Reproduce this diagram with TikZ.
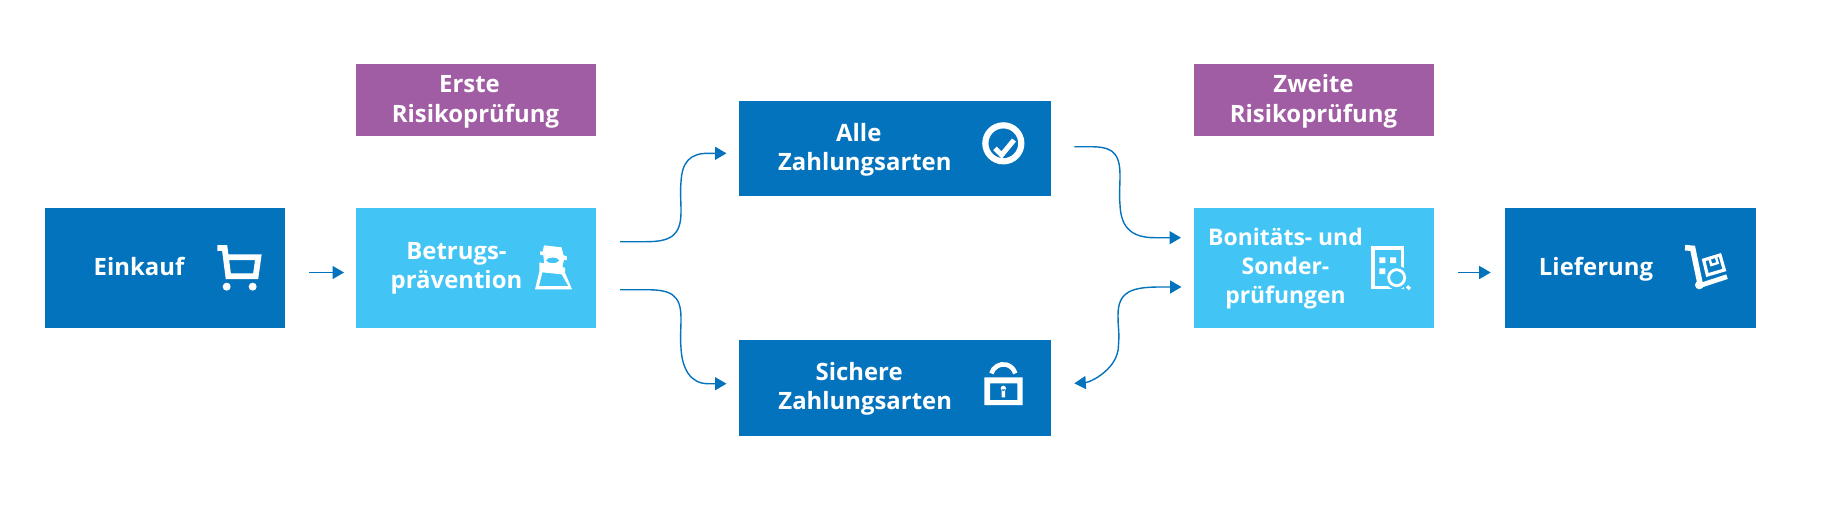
\documentclass[tikz,border=0pt]{standalone}
\usepackage{fontspec}
\setmainfont{Open Sans}
\usetikzlibrary{arrows.meta}
\definecolor{dblue}{HTML}{0473BD}
\definecolor{lblue}{HTML}{42C5F5}
\definecolor{purp}{HTML}{A05DA3}
\tikzset{
  box/.style={rectangle,draw=none,inner sep=0pt,minimum width=#1},
  boxd/.style={box=#1,fill=dblue},
  boxl/.style={box=#1,fill=lblue,minimum height=119.8pt},
  boxp/.style={box=#1,fill=purp,minimum height=72pt},
  lbl/.style={text=white,inner sep=0pt,align=center,anchor=base,font=\fontsize{23.9pt}{29.3pt}\selectfont\bfseries},
  lblsmall/.style={lbl,font=\fontsize{22.9pt}{29.3pt}\selectfont\bfseries},
  conn/.style={draw=dblue,line width=1.4pt,-{Triangle[length=11.5pt,width=13pt]}},
  conn2/.style={draw=dblue,line width=1.4pt,{Triangle[length=11.5pt,width=13pt]}-{Triangle[length=11.5pt,width=13pt]}},
  ico/.style={draw=white,line width=#1,fill=none},
  icon/.style={x=0.3333pt,y=-0.3333pt}
}
\begin{document}
\begin{tikzpicture}[x=1pt,y=-1pt]
\useasboundingbox (0,0) rectangle (1841,517);
% boxes
\node[boxd=240.7pt,minimum height=119.8pt] (einkauf) at (165,267.7) {};
\node[boxl=240.7pt] (betrug) at (476,267.7) {};
\node[boxp=240.7pt] (erste) at (476,100.2) {};
\node[boxd=311.5pt,minimum height=95pt] (alle) at (895,148.5) {};
\node[boxd=311.5pt,minimum height=95.6pt] (sichere) at (895,387.9) {};
\node[boxp=240pt] (zweite) at (1314,100.2) {};
\node[boxl=240pt] (bonitaet) at (1314,267.7) {};
\node[boxd=251pt,minimum height=119.8pt] (lieferung) at (1630.5,267.7) {};
% texts
\node[lbl] (tEinkauf) at (139,275) {Einkauf};
\node[lbl] (tErste) at (475.5,122) {Erste\hspace*{12pt}\\Risikoprüfung};
\node[lbl] (tBetrug) at (456.5,288.7) {Betrugs-\\prävention};
\node[lbl] (tAlle) at (864.8,170.3) {Alle\hspace*{12pt}\\Zahlungsarten};
\node[lbl] (tSichere) at (865.2,409.3) {Sichere\hspace*{12pt}\\Zahlungsarten};
\node[lbl] (tZweite) at (1313.5,122) {Zweite\\Risikoprüfung};
\node[lblsmall] (tBon) at (1285.5,303.6) {Bonitäts- und\\Sonder-\\prüfungen};
\node[lbl] (tLief) at (1596,275.3) {Lieferung};
% connector ends
\coordinate (a1) at (308.8,272.5);
\coordinate (a2) at (344,272.5);
\coordinate (b1) at (620,241.7);
\coordinate (b2) at (726.5,153.3);
\coordinate (c1) at (620,289.7);
\coordinate (c2) at (726.5,383.7);
\coordinate (d1) at (1074.3,146.7);
\coordinate (d2) at (1181,237.7);
\coordinate (e1) at (1181.5,287);
\coordinate (e2) at (1074.3,383.3);
\coordinate (f1) at (1457.5,272.5);
\coordinate (f2) at (1490.7,272.5);
% connectors
\draw[conn] (a1) -- (a2);
\draw[conn] (f1) -- (f2);
\draw[conn] (b1) -- ++(26,0) .. controls +(24,0) and +(0,24) .. (681,212) .. controls +(0,-14) and +(-1,12) .. (681,182) .. controls +(1,-20) and +(-18,0) .. (708,153.3) -- (b2);
\draw[conn] (c1) -- ++(26,0) .. controls +(24,0) and +(0,-24) .. (681,318) .. controls +(0,14) and +(-1,-12) .. (681,348) .. controls +(1,20) and +(-18,0) .. (708,383.7) -- (c2);
\draw[conn] (d1) -- ++(14,0) .. controls +(20,0) and +(0,-26) .. (1120,175) .. controls +(0,14) and +(-1,-14) .. (1120,205) .. controls +(1,24) and +(-22,0) .. (1155,237.7) -- (d2);
\draw[conn2] (e1) -- ++(-21,0) .. controls +(-28,0) and +(0,-24) .. (1118,315) .. controls +(0,14) and +(1,-14) .. (1118.5,345) .. controls +(0,24) and +(16,-1) .. (e2);
% icons
% cart
\begin{scope}[shift={(200,230)},icon]
\draw[ico=5.8pt,miter limit=4] (52,54) -- (74,54) -- (85,139) -- (167,139) -- (175,82) -- (78,82);
\fill[white] (80,170) circle[radius=12] (158,170) circle[radius=12];
\end{scope}
% detective
\begin{scope}[shift={(520,230)},icon]
\fill[white] (72,46) -- (125,52) -- (130,75) -- (141,80) -- (140,91) -- (60,74) -- (60,64) -- (68,65) -- cycle;
\fill[white] (70,76) -- (132,88) -- (127,112) -- (73,104) -- cycle;
\fill[lblue] (98,91) ellipse[x radius=19,y radius=8];
\fill[white,even odd rule] (58,97) -- (135,113) -- (135,128) -- (156,178) -- (45,178) -- (58,125) -- cycle
 (67,127) -- (125,133) -- (145,168) -- (57,168) -- cycle;
\end{scope}
% check
\begin{scope}[shift={(970,115)},icon]
\draw[ico=6.2pt] (100,85) circle[radius=54];
\draw[ico=5pt] (75,100) -- (95,120) -- (132,75);
\end{scope}
% lock
\begin{scope}[shift={(970,360)},icon]
\fill[white,even odd rule] (43,52) rectangle (158,135) (60,70) rectangle (142,120);
\fill[white] (100,85) circle[radius=8] (95,88) rectangle (105,112);
\draw[ico=4.6pt] (64.3,40.4) arc[start angle=195,end angle=345,radius=37];
\end{scope}
% building
\begin{scope}[shift={(1360,235)},icon]
\fill[white] (33,33) rectangle (133,163);
\fill[lblue] (45,45) rectangle (122,152);
\fill[white] (58,67) rectangle (76,84) (90,67) rectangle (108,84) (58,100) rectangle (76,117);
\fill[lblue] (110,128) circle[radius=36];
\draw[ico=2.8pt] (110,128) circle[radius=24];
\draw[ico=3.2pt] (141,154) -- (150,162);
\end{scope}
% trolley
\begin{scope}[shift={(1670,235)},icon]
\draw[ico=5.6pt] (45,38) -- (68,40) -- (90,145);
\fill[white] (88,150) circle[radius=13];
\draw[ico=4.8pt] (95,150) -- (171,125);
\draw[ico=3.2pt] (101,75) -- (150,60) -- (163,105) -- (112,120) -- cycle;
\draw[ico=2.4pt] (118,70) -- (124,90) -- (143,84) -- (137,64);
\end{scope}
\end{tikzpicture}
\end{document}
